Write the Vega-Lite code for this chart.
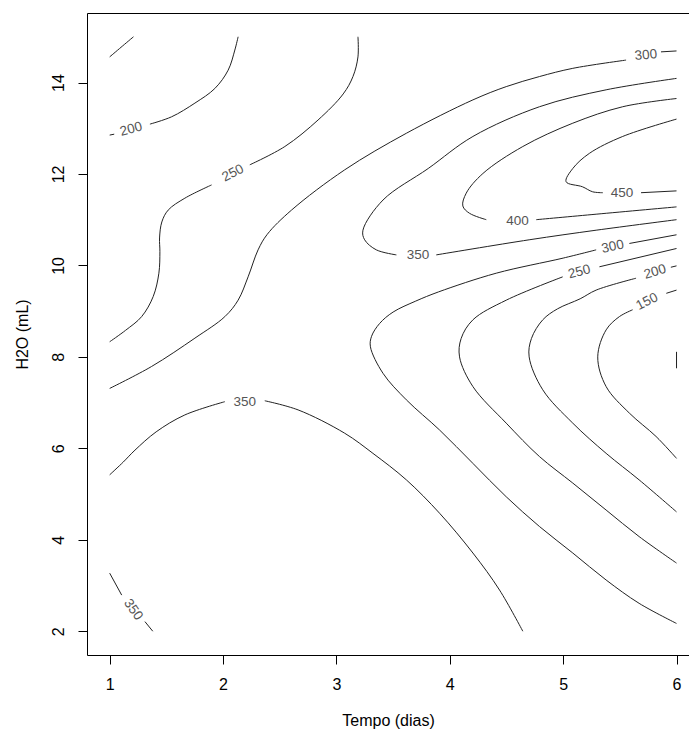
{
  "$schema": "https://vega.github.io/schema/vega-lite/v6.json",
  "autosize": {"type": "none"},
  "padding": {"left": 87, "top": 13, "right": 0, "bottom": 80},
  "width": 602,
  "height": 642,
  "background": "white",
  "config": {"view": {"stroke": null}, "font": "Liberation Sans"},
  "datasets": {
    "lines": [
      {"piece":"150tl","i":0,"x":1.0,"y":14.56},{"piece":"150tl","i":1,"x":1.1,"y":14.77},{"piece":"150tl","i":2,"x":1.21,"y":15.0},
      {"piece":"200a","i":0,"x":1.0,"y":12.85},{"piece":"200a","i":1,"x":1.04,"y":12.87},
      {"piece":"200b","i":0,"x":1.355,"y":13.09},{"piece":"200b","i":1,"x":1.546,"y":13.25},{"piece":"200b","i":2,"x":1.752,"y":13.55},{"piece":"200b","i":3,"x":1.928,"y":13.87},{"piece":"200b","i":4,"x":2.045,"y":14.27},{"piece":"200b","i":5,"x":2.104,"y":14.71},{"piece":"200b","i":6,"x":2.133,"y":15.0},
      {"piece":"250a","i":0,"x":1.0,"y":8.33},{"piece":"250a","i":1,"x":1.14,"y":8.58},{"piece":"250a","i":2,"x":1.282,"y":8.88},{"piece":"250a","i":3,"x":1.384,"y":9.32},{"piece":"250a","i":4,"x":1.434,"y":9.83},{"piece":"250a","i":5,"x":1.443,"y":10.3},{"piece":"250a","i":6,"x":1.44,"y":10.6},{"piece":"250a","i":7,"x":1.46,"y":10.95},{"piece":"250a","i":8,"x":1.516,"y":11.21},{"piece":"250a","i":9,"x":1.663,"y":11.47},{"piece":"250a","i":10,"x":1.899,"y":11.76},
      {"piece":"250b","i":0,"x":2.236,"y":12.2},{"piece":"250b","i":1,"x":2.545,"y":12.6},{"piece":"250b","i":2,"x":2.838,"y":13.18},{"piece":"250b","i":3,"x":3.06,"y":13.75},{"piece":"250b","i":4,"x":3.146,"y":14.13},{"piece":"250b","i":5,"x":3.19,"y":14.56},{"piece":"250b","i":6,"x":3.19,"y":15.0},
      {"piece":"300a","i":0,"x":1.0,"y":7.31},{"piece":"300a","i":1,"x":1.37,"y":7.79},{"piece":"300a","i":2,"x":1.752,"y":8.41},{"piece":"300a","i":3,"x":2.016,"y":8.88},{"piece":"300a","i":4,"x":2.133,"y":9.24},{"piece":"300a","i":5,"x":2.221,"y":9.75},{"piece":"300a","i":6,"x":2.309,"y":10.34},{"piece":"300a","i":7,"x":2.39,"y":10.68},{"piece":"300a","i":8,"x":2.604,"y":11.21},{"piece":"300a","i":9,"x":3.073,"y":12.09},{"piece":"300a","i":10,"x":3.617,"y":12.89},{"piece":"300a","i":11,"x":4.204,"y":13.62},{"piece":"300a","i":12,"x":4.498,"y":13.91},{"piece":"300a","i":13,"x":4.791,"y":14.13},{"piece":"300a","i":14,"x":5.085,"y":14.31},{"piece":"300a","i":15,"x":5.555,"y":14.49},
      {"piece":"300b","i":0,"x":5.863,"y":14.67},{"piece":"300b","i":1,"x":6.0,"y":14.69},
      {"piece":"350a","i":0,"x":1.0,"y":5.42},{"piece":"350a","i":1,"x":1.12,"y":5.7},{"piece":"350a","i":2,"x":1.223,"y":5.96},{"piece":"350a","i":3,"x":1.41,"y":6.36},{"piece":"350a","i":4,"x":1.663,"y":6.73},{"piece":"350a","i":5,"x":2.016,"y":7.02},
      {"piece":"350b","i":0,"x":2.368,"y":7.04},{"piece":"350b","i":1,"x":2.662,"y":6.84},{"piece":"350b","i":2,"x":3.073,"y":6.33},{"piece":"350b","i":3,"x":3.322,"y":5.89},{"piece":"350b","i":4,"x":3.617,"y":5.31},{"piece":"350b","i":5,"x":3.91,"y":4.58},{"piece":"350b","i":6,"x":4.204,"y":3.71},{"piece":"350b","i":7,"x":4.439,"y":2.9},{"piece":"350b","i":8,"x":4.644,"y":2.0},
      {"piece":"350c","i":0,"x":1.0,"y":3.27},{"piece":"350c","i":1,"x":1.106,"y":2.79},
      {"piece":"350d","i":0,"x":1.311,"y":2.21},{"piece":"350d","i":1,"x":1.38,"y":2.0},
      {"piece":"350e","i":0,"x":6.0,"y":14.09},{"piece":"350e","i":1,"x":5.379,"y":13.84},{"piece":"350e","i":2,"x":4.791,"y":13.47},{"piece":"350e","i":3,"x":4.204,"y":12.82},{"piece":"350e","i":4,"x":3.81,"y":12.12},{"piece":"350e","i":5,"x":3.411,"y":11.43},{"piece":"350e","i":6,"x":3.234,"y":10.77},{"piece":"350e","i":7,"x":3.249,"y":10.56},{"piece":"350e","i":8,"x":3.352,"y":10.34},{"piece":"350e","i":9,"x":3.529,"y":10.23},
      {"piece":"350f","i":0,"x":3.881,"y":10.23},{"piece":"350f","i":1,"x":4.7,"y":10.56},{"piece":"350f","i":2,"x":5.291,"y":10.77},{"piece":"350f","i":3,"x":6.0,"y":11.0},
      {"piece":"400a","i":0,"x":6.0,"y":13.65},{"piece":"400a","i":1,"x":5.525,"y":13.47},{"piece":"400a","i":2,"x":5.085,"y":13.11},{"piece":"400a","i":3,"x":4.644,"y":12.6},{"piece":"400a","i":4,"x":4.292,"y":12.01},{"piece":"400a","i":5,"x":4.145,"y":11.58},{"piece":"400a","i":6,"x":4.115,"y":11.3},{"piece":"400a","i":7,"x":4.174,"y":11.14},{"piece":"400a","i":8,"x":4.322,"y":11.0},
      {"piece":"400b","i":0,"x":4.762,"y":11.0},{"piece":"400b","i":1,"x":5.291,"y":11.12},{"piece":"400b","i":2,"x":6.0,"y":11.28},
      {"piece":"450a","i":0,"x":6.0,"y":13.2},{"piece":"450a","i":1,"x":5.525,"y":12.82},{"piece":"450a","i":2,"x":5.231,"y":12.45},{"piece":"450a","i":3,"x":5.085,"y":12.12},{"piece":"450a","i":4,"x":5.026,"y":11.83},{"piece":"450a","i":5,"x":5.17,"y":11.72},{"piece":"450a","i":6,"x":5.26,"y":11.61},{"piece":"450a","i":7,"x":5.35,"y":11.59},
      {"piece":"450b","i":0,"x":5.687,"y":11.59},{"piece":"450b","i":1,"x":6.0,"y":11.63},
      {"piece":"300c","i":0,"x":6.0,"y":2.17},{"piece":"300c","i":1,"x":5.67,"y":2.61},{"piece":"300c","i":2,"x":5.379,"y":3.12},{"piece":"300c","i":3,"x":5.085,"y":3.71},{"piece":"300c","i":4,"x":4.791,"y":4.29},{"piece":"300c","i":5,"x":4.498,"y":4.94},{"piece":"300c","i":6,"x":4.204,"y":5.67},{"piece":"300c","i":7,"x":3.91,"y":6.4},{"piece":"300c","i":8,"x":3.617,"y":7.06},{"piece":"300c","i":9,"x":3.411,"y":7.64},{"piece":"300c","i":10,"x":3.3,"y":8.22},{"piece":"300c","i":11,"x":3.31,"y":8.45},{"piece":"300c","i":12,"x":3.381,"y":8.73},{"piece":"300c","i":13,"x":3.5,"y":8.98},{"piece":"300c","i":14,"x":3.7,"y":9.22},{"piece":"300c","i":15,"x":3.9,"y":9.42},{"piece":"300c","i":16,"x":4.41,"y":9.83},{"piece":"300c","i":17,"x":5.0,"y":10.16},{"piece":"300c","i":18,"x":5.291,"y":10.34},
      {"piece":"300d","i":0,"x":5.584,"y":10.48},{"piece":"300d","i":1,"x":6.0,"y":10.67},
      {"piece":"250c","i":0,"x":6.0,"y":3.49},{"piece":"250c","i":1,"x":5.67,"y":4.07},{"piece":"250c","i":2,"x":5.379,"y":4.65},{"piece":"250c","i":3,"x":5.085,"y":5.24},{"piece":"250c","i":4,"x":4.791,"y":5.82},{"piece":"250c","i":5,"x":4.498,"y":6.55},{"piece":"250c","i":6,"x":4.204,"y":7.35},{"piece":"250c","i":7,"x":4.086,"y":8.0},{"piece":"250c","i":8,"x":4.1,"y":8.4},{"piece":"250c","i":9,"x":4.204,"y":8.81},{"piece":"250c","i":10,"x":4.498,"y":9.24},{"piece":"250c","i":11,"x":4.996,"y":9.75},
      {"piece":"250d","i":0,"x":5.32,"y":9.97},{"piece":"250d","i":1,"x":6.0,"y":10.37},
      {"piece":"200c","i":0,"x":6.0,"y":4.61},{"piece":"200c","i":1,"x":5.67,"y":5.31},{"piece":"200c","i":2,"x":5.379,"y":5.89},{"piece":"200c","i":3,"x":5.085,"y":6.55},{"piece":"200c","i":4,"x":4.82,"y":7.28},{"piece":"200c","i":5,"x":4.7,"y":8.0},{"piece":"200c","i":6,"x":4.72,"y":8.4},{"piece":"200c","i":7,"x":4.82,"y":8.81},{"piece":"200c","i":8,"x":4.95,"y":9.05},{"piece":"200c","i":9,"x":5.15,"y":9.27},{"piece":"200c","i":10,"x":5.291,"y":9.46},{"piece":"200c","i":11,"x":5.643,"y":9.72},
      {"piece":"200d","i":0,"x":5.95,"y":9.96},{"piece":"200d","i":1,"x":6.0,"y":9.99},
      {"piece":"150c","i":0,"x":6.0,"y":5.78},{"piece":"150c","i":1,"x":5.819,"y":6.26},{"piece":"150c","i":2,"x":5.584,"y":6.77},{"piece":"150c","i":3,"x":5.379,"y":7.35},{"piece":"150c","i":4,"x":5.305,"y":8.0},{"piece":"150c","i":5,"x":5.379,"y":8.59},{"piece":"150c","i":6,"x":5.496,"y":8.88},{"piece":"150c","i":7,"x":5.613,"y":9.03},
      {"piece":"150d","i":0,"x":5.91,"y":9.39},{"piece":"150d","i":1,"x":6.0,"y":9.46},
      {"piece":"100","i":0,"x":6.0,"y":7.75},{"piece":"100","i":1,"x":6.0,"y":8.11}
    ],
    "labels": [
      {"id":"L200a","label":"200","x":1.19,"y":12.98},
      {"id":"L250a","label":"250","x":2.087,"y":12.02},
      {"id":"L300a","label":"300","x":5.729,"y":14.6},
      {"id":"L450","label":"450","x":5.52,"y":11.58},
      {"id":"L400","label":"400","x":4.597,"y":10.97},
      {"id":"L350e","label":"350","x":3.719,"y":10.23},
      {"id":"L300c","label":"300","x":5.437,"y":10.41},
      {"id":"L250c","label":"250","x":5.143,"y":9.86},
      {"id":"L200c","label":"200","x":5.81,"y":9.86},
      {"id":"L150c","label":"150","x":5.74,"y":9.21},
      {"id":"L350a","label":"350","x":2.192,"y":7.02},
      {"id":"L350c","label":"350","x":1.208,"y":2.47}
    ]
  },
  "encoding": {
    "y": {
      "field": "y", "type": "quantitative",
      "scale": {"domain": [1.48, 15.52], "nice": false, "zero": false},
      "axis": {
        "orient": "left", "values": [2, 4, 6, 8, 10, 12, 14], "format": "d",
        "title": "H2O (mL)", "grid": false,
        "domainColor": "#000", "domainWidth": 1, "tickColor": "#000", "tickSize": 9,
        "labelAngle": -90, "labelAlign": "center", "labelBaseline": "bottom",
        "labelFont": "Liberation Sans", "labelFontSize": 16, "labelColor": "#000", "labelPadding": 12, "labelFlush": false,
        "titleFont": "Liberation Sans", "titleFontSize": 16, "titleFontWeight": "normal", "titleColor": "#000", "titlePadding": 20
      }
    }
  },
  "layer": [
    {
      "data": {"name": "lines"},
      "mark": {"type": "line", "color": "#222", "strokeWidth": 1, "interpolate": "catmull-rom"},
      "encoding": {
        "x": {
          "field": "x", "type": "quantitative",
          "scale": {"domain": [0.8, 6.11], "nice": false, "zero": false},
          "axis": {
            "orient": "bottom", "values": [1, 2, 3, 4, 5, 6], "format": "d",
            "title": "Tempo (dias)", "grid": false,
            "domainColor": "#000", "domainWidth": 1, "tickColor": "#000", "tickSize": 9,
            "labelFont": "Liberation Sans", "labelFontSize": 16, "labelColor": "#000", "labelPadding": 12, "labelFlush": false,
            "titleFont": "Liberation Sans", "titleFontSize": 16, "titleFontWeight": "normal", "titleColor": "#000", "titlePadding": 20
          }
        },
        "detail": {"field": "piece"},
        "order": {"field": "i", "type": "quantitative"}
      }
    },
    {
      "data": {"name": "labels"},
      "transform": [{"filter": {"field": "id", "oneOf": ["L450", "L400", "L350e", "L350a"]}}],
      "mark": {"type": "text", "angle": 0, "fontSize": 13.5, "color": "#555", "font": "Liberation Sans", "align": "center", "baseline": "middle"},
      "encoding": {
        "x": {
          "field": "x", "type": "quantitative",
          "scale": {"domain": [0.8, 6.11], "nice": false, "zero": false},
          "axis": {"orient": "top", "labels": false, "ticks": false, "domain": true, "domainColor": "#000", "domainWidth": 1, "title": null, "grid": false}
        },
        "text": {"field": "label"}
      }
    },
    {
      "data": {"name": "labels"},
      "transform": [{"filter": {"field": "id", "oneOf": ["L300a"]}}],
      "mark": {"type": "text", "angle": -5, "fontSize": 13.5, "color": "#555", "font": "Liberation Sans", "align": "center", "baseline": "middle"},
      "encoding": {
        "x": {"field": "x", "type": "quantitative", "scale": {"domain": [0.8, 6.11], "nice": false, "zero": false}, "axis": null},
        "text": {"field": "label"}
      }
    },
    {
      "data": {"name": "labels"},
      "transform": [{"filter": {"field": "id", "oneOf": ["L300c"]}}],
      "mark": {"type": "text", "angle": -12, "fontSize": 13.5, "color": "#555", "font": "Liberation Sans", "align": "center", "baseline": "middle"},
      "encoding": {
        "x": {"field": "x", "type": "quantitative", "scale": {"domain": [0.8, 6.11], "nice": false, "zero": false}, "axis": null},
        "text": {"field": "label"}
      }
    },
    {
      "data": {"name": "labels"},
      "transform": [{"filter": {"field": "id", "oneOf": ["L200a", "L250c"]}}],
      "mark": {"type": "text", "angle": -15, "fontSize": 13.5, "color": "#555", "font": "Liberation Sans", "align": "center", "baseline": "middle"},
      "encoding": {
        "x": {"field": "x", "type": "quantitative", "scale": {"domain": [0.8, 6.11], "nice": false, "zero": false}, "axis": null},
        "text": {"field": "label"}
      }
    },
    {
      "data": {"name": "labels"},
      "transform": [{"filter": {"field": "id", "oneOf": ["L200c"]}}],
      "mark": {"type": "text", "angle": -17, "fontSize": 13.5, "color": "#555", "font": "Liberation Sans", "align": "center", "baseline": "middle"},
      "encoding": {
        "x": {"field": "x", "type": "quantitative", "scale": {"domain": [0.8, 6.11], "nice": false, "zero": false}, "axis": null},
        "text": {"field": "label"}
      }
    },
    {
      "data": {"name": "labels"},
      "transform": [{"filter": {"field": "id", "oneOf": ["L250a", "L150c"]}}],
      "mark": {"type": "text", "angle": -27, "fontSize": 13.5, "color": "#555", "font": "Liberation Sans", "align": "center", "baseline": "middle"},
      "encoding": {
        "x": {"field": "x", "type": "quantitative", "scale": {"domain": [0.8, 6.11], "nice": false, "zero": false}, "axis": null},
        "text": {"field": "label"}
      }
    },
    {
      "data": {"name": "labels"},
      "transform": [{"filter": {"field": "id", "oneOf": ["L350c"]}}],
      "mark": {"type": "text", "angle": 55, "fontSize": 13.5, "color": "#555", "font": "Liberation Sans", "align": "center", "baseline": "middle"},
      "encoding": {
        "x": {"field": "x", "type": "quantitative", "scale": {"domain": [0.8, 6.11], "nice": false, "zero": false}, "axis": null},
        "text": {"field": "label"}
      }
    }
  ],
  "resolve": {"axis": {"x": "independent"}}
}
